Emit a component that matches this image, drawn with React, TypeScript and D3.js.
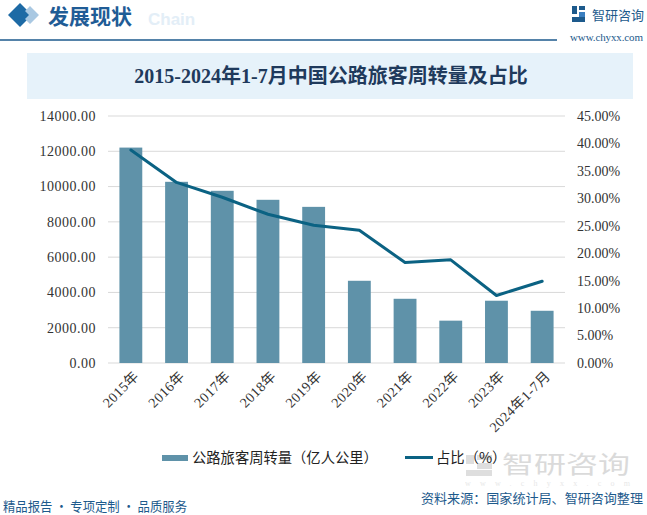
import React from "react";
import * as d3 from "d3";

const categories = ["2015年", "2016年", "2017年", "2018年", "2019年", "2020年", "2021年", "2022年", "2023年", "2024年1-7月"];
const turnover = [12210, 10270, 9760, 9250, 8850, 4660, 3640, 2400, 3530, 2960];
const share = [38.8, 32.9, 30.2, 27.1, 25.1, 24.2, 18.3, 18.8, 12.3, 14.9];
const leftTicks = [0, 2000, 4000, 6000, 8000, 10000, 12000, 14000];
const rightTicks = [0, 5, 10, 15, 20, 25, 30, 35, 40, 45];

const W = 647;
const H = 515;
const plot = { left: 108, right: 565, top: 116, bottom: 363 };
const barColor = "#5f92a9";
const lineColor = "#0b6283";
const textColor = "#333333";
const numFont = "'Liberation Serif', 'Noto Sans CJK SC', serif";
const cjkFont = "'Noto Sans CJK SC', sans-serif";
const blue = "#1d5a8c";

export default function App() {
  const x = d3.scaleBand<string>().domain(categories).range([plot.left, plot.right]).paddingInner(0.5).paddingOuter(0.25);
  const yL = d3.scaleLinear().domain([0, 14000]).range([plot.bottom, plot.top]);
  const yR = d3.scaleLinear().domain([0, 45]).range([plot.bottom, plot.top]);
  const cx = (c: string) => (x(c) as number) + x.bandwidth() / 2;
  const line = d3.line<number>().x((_, i) => cx(categories[i])).y((d) => yR(d));

  return (
    <svg width={W} height={H} style={{ position: "absolute", left: 0, top: 0, background: "#fff" }}>
      <defs>
        <linearGradient id="foot" x1="0" x2="1" y1="0" y2="0">
          <stop offset="0" stopColor="#1d5a8c" />
          <stop offset="1" stopColor="#8fb3cf" />
        </linearGradient>
      </defs>
      <rect x={0} y={0} width={W} height={H} fill="#fff" />

      {/* header */}
      <path d="M20,3 L32,15 L20,27 L8,15 Z" fill="#1d6aa5" />
      <path d="M30,6 L39,15 L30,24 L25,19 L29,15 L25,11 Z" fill="#a9c8e2" />
      <text x={148} y={25} fontFamily="'Liberation Sans', sans-serif" fontWeight="bold" fontSize={17} fill="#e3eef7">Chain</text>
      <text x={48} y={24} fontFamily={cjkFont} fontWeight="bold" fontSize={21} fill="#1f5c96">发展现状</text>
      <line x1={0} x2={557} y1={40} y2={40} stroke={blue} strokeWidth={1.5} />
      <g>
        <rect x={572} y={6} width={5} height={8} fill="#1d5a8c" />
        <rect x={579} y={6} width={6} height={4} fill="#1d5a8c" />
        <rect x={579} y={12} width={6} height={6} fill="#3b7fc0" />
        <rect x={572} y={17} width={13} height={5} fill="#1d5a8c" />
      </g>
      <text x={592} y={20} fontFamily={cjkFont} fontSize={13} fill={blue}>智研咨询</text>
      <text x={570} y={41} fontFamily={numFont} fontSize={11} textLength={73} lengthAdjust="spacing" fill={blue}>www.chyxx.com</text>

      {/* title */}
      <rect x={27} y={53} width={606} height={46} fill="#e6f2fa" />
      <text x={331} y={83} textAnchor="middle" fontFamily={numFont} fontWeight="bold" fontSize={20} fill="#1f3a5c">2015-2024年1-7月中国公路旅客周转量及占比</text>

      {/* grid */}
      {leftTicks.map((t) => (
        <line key={"g" + t} x1={plot.left} x2={plot.right} y1={yL(t)} y2={yL(t)} stroke="#d9d9d9" strokeWidth={1} />
      ))}
      {leftTicks.map((t) => (
        <text key={"l" + t} x={96} y={yL(t)} dy="0.35em" textAnchor="end" fontFamily={numFont} fontSize={14} letterSpacing={0.5} fill={textColor}>
          {d3.format(".2f")(t)}
        </text>
      ))}
      {rightTicks.map((t) => (
        <text key={"r" + t} x={577} y={yR(t)} dy="0.35em" textAnchor="start" fontFamily={numFont} fontSize={14} fill={textColor}>
          {d3.format(".2f")(t) + "%"}
        </text>
      ))}

      {/* bars */}
      {turnover.map((v, i) => (
        <rect key={"b" + i} x={x(categories[i])} y={yL(v)} width={x.bandwidth()} height={yL(0) - yL(v)} fill={barColor} />
      ))}
      <path d={line(share) || ""} fill="none" stroke={lineColor} strokeWidth={3} strokeLinejoin="round" strokeLinecap="round" />

      {/* x labels */}
      {categories.map((c) => (
        <text key={"x" + c} transform={`translate(${cx(c) + 9},${377}) rotate(-45)`} textAnchor="end" fontFamily={numFont} fontSize={14} letterSpacing={0.5} fill={textColor}>
          {c}
        </text>
      ))}

      {/* watermark near legend */}
      <g opacity={0.55}>
        <rect x={466} y={455} width={8} height={9} fill="#c4c4c4" />
        <rect x={477} y={455} width={15} height={5} fill="#c4c4c4" />
        <rect x={477} y={463} width={15} height={6} fill="#c4c4c4" />
        <rect x={466} y={470} width={26} height={6} fill="#c4c4c4" />
        <text x={502} y={473} fontFamily={cjkFont} fontSize={24} textLength={128} lengthAdjust="spacingAndGlyphs" fill="#bdbdbd">智研咨询</text>
        <text x={465} y={486} fontFamily={numFont} fontSize={8} textLength={165} lengthAdjust="spacing" fill="#d4d4d4">www.chyxx.com</text>
      </g>

      {/* legend */}
      <rect x={162} y={455} width={26} height={6} fill={barColor} />
      <text x={192} y={463} fontFamily={cjkFont} fontSize={14.3} fill="#222">公路旅客周转量（亿人公里）</text>
      <line x1={405} x2={433} y1={457.5} y2={457.5} stroke={lineColor} strokeWidth={3} />
      <text x={436} y={463} fontFamily={cjkFont} fontSize={14.3} fill="#222">占比（%）</text>

      {/* footer */}
      <line x1={0} x2={403} y1={492.5} y2={492.5} stroke="url(#foot)" strokeWidth={2} />
      <text x={421} y={503} fontFamily={cjkFont} fontSize={13} textLength={222} lengthAdjust="spacingAndGlyphs" fill={blue}>资料来源：国家统计局、智研咨询整理</text>
      <text x={3} y={511} fontFamily={cjkFont} fontSize={13} textLength={184} lengthAdjust="spacingAndGlyphs" fill={blue}>精品报告 · 专项定制 · 品质服务</text>
    </svg>
  );
}
